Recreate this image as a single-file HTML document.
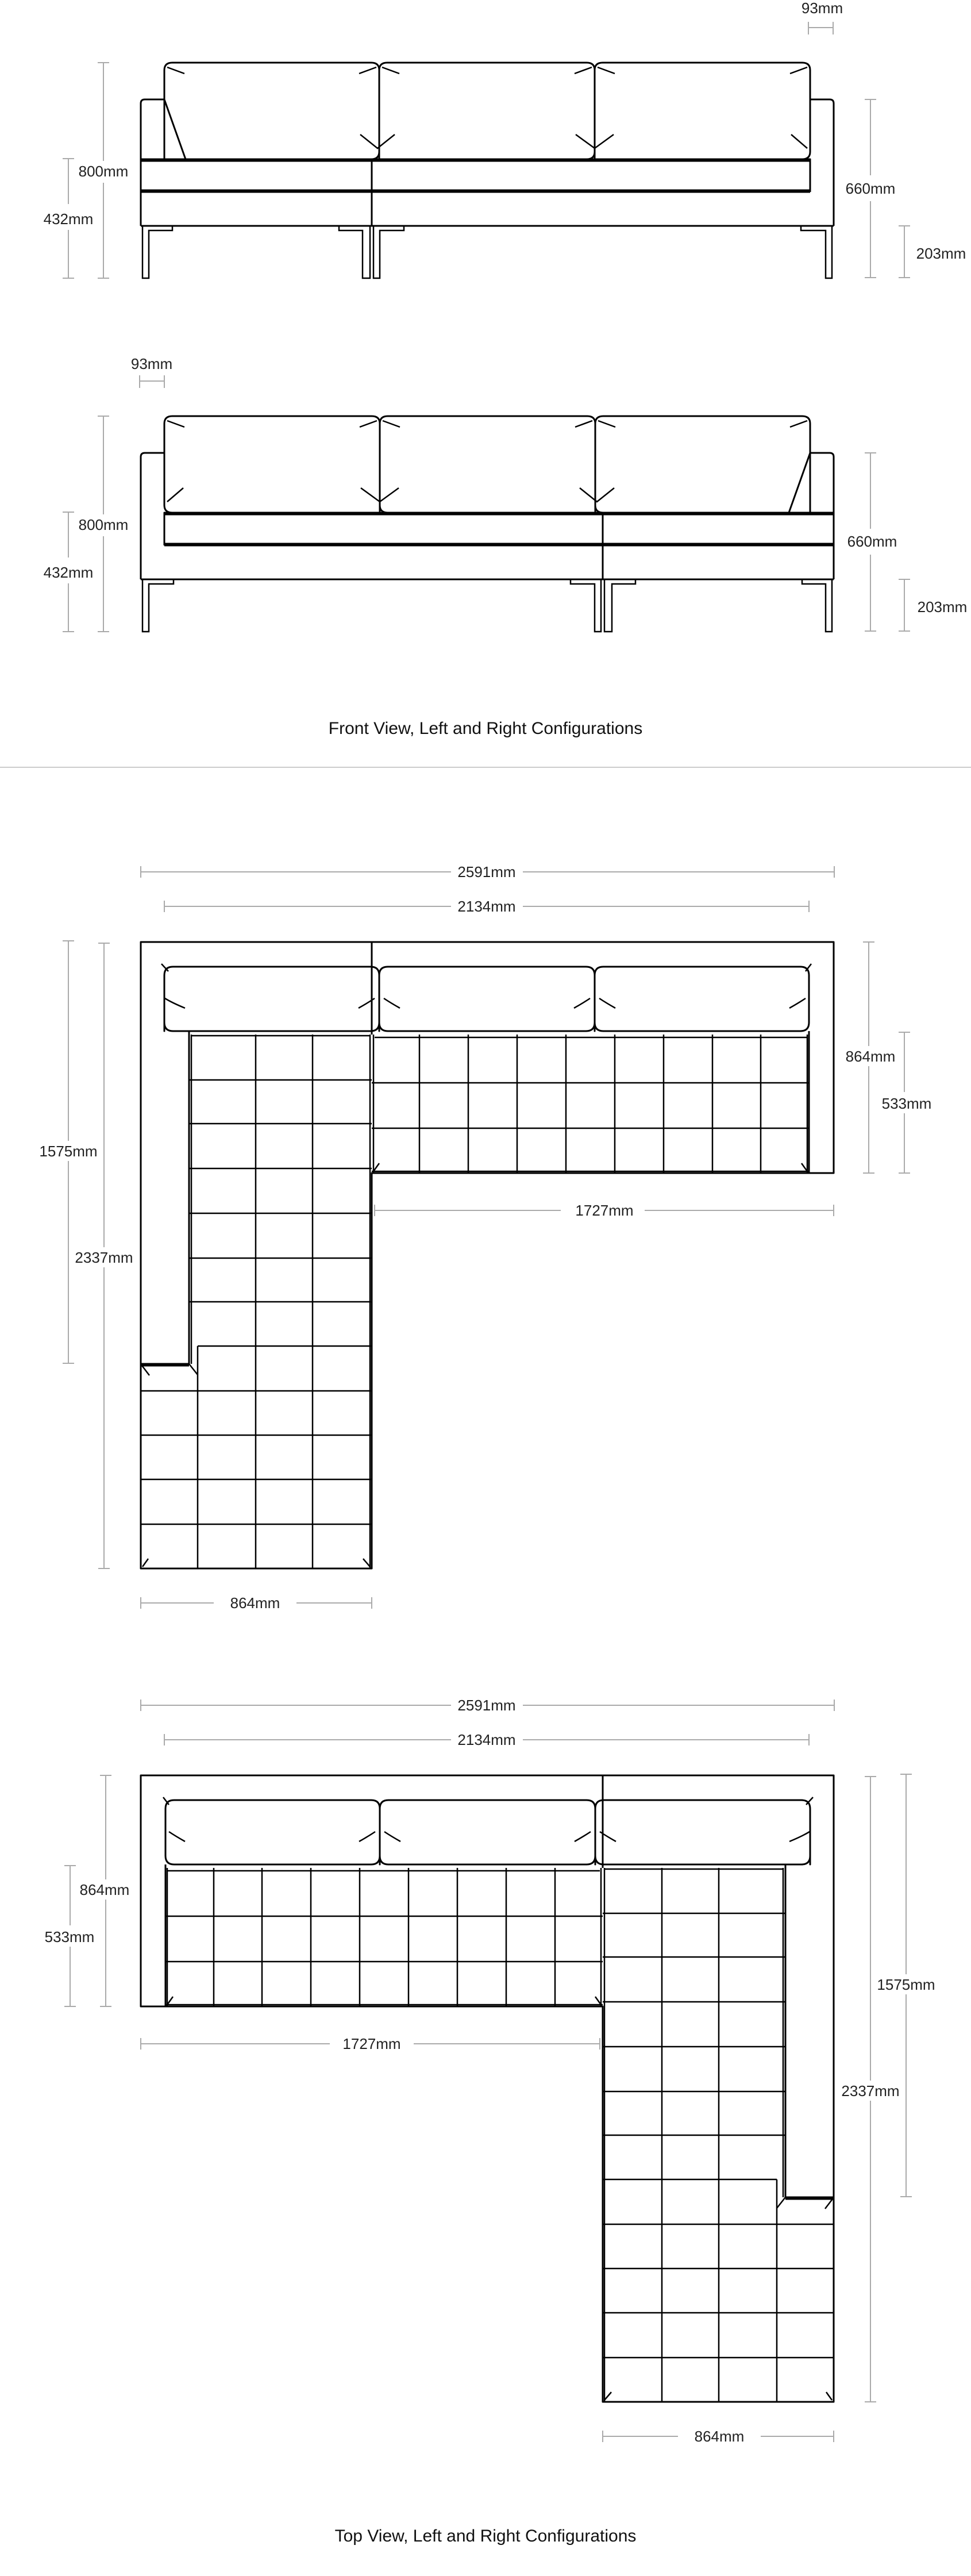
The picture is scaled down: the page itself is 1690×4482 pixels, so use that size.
<!DOCTYPE html>
<html><head><meta charset="utf-8"><style>
html,body{margin:0;padding:0;background:#fff}
svg{display:block}
text{font-family:"Liberation Sans",sans-serif;font-size:26px;fill:#222}
.t{font-size:30px;font-weight:normal;fill:#111}
.d{stroke:#aaa;stroke-width:2;fill:none}
.s{stroke:#000;stroke-width:3;fill:none;stroke-linejoin:round}
.g{stroke:#000;stroke-width:2.5;fill:none}
</style></head><body>
<svg width="1690" height="4482" viewBox="0 0 1690 4482" xmlns="http://www.w3.org/2000/svg">
<defs>
<g id="front">
  <path class="s" d="M286,277 V122 Q286,109 300,109 H646 Q660,109 660,122 V264 Q660,277 646,277 Z"/>
  <path class="s" d="M660,277 V122 Q660,109 674,109 H1021 Q1035,109 1035,122 V264 Q1035,277 1021,277 Z"/>
  <path class="s" d="M1035,277 V122 Q1035,109 1049,109 H1396 Q1410,109 1410,122 V264 Q1410,277 1396,277 Z"/>
  <g class="g">
    <path d="M291,117 L321,128"/><path d="M655,117 L625,128"/><path d="M665,117 L695,128"/><path d="M1030,117 L1000,128"/><path d="M1040,117 L1070,128"/><path d="M1405,117 L1375,128"/>
    <path d="M627,234 L657,258 L687,234"/><path d="M1002,234 L1035,258 L1068,234"/><path d="M1377,234 L1405,258"/>
  </g>
  <path class="s" d="M245,393 V180 Q245,173 252,173 H286"/>
  <path class="s" d="M286,173 L323,277"/>
  <path class="s" d="M1410,173 H1444 Q1451,173 1451,180 V393"/>
  <path class="s" d="M245,277 H1410 V334"/>
  <path class="s" d="M245,280 H1410"/>
  <path class="s" d="M245,331 H1410"/>
  <path class="s" d="M245,334 H1410"/>
  <path class="s" d="M647,277 V393"/>
  <path class="s" d="M245,393 H1451"/>
  <path class="g" d="M248,393 V484 H259 V401 H300 V393"/>
  <path class="g" d="M590,393 V401 H631 V484 H644 V393"/>
  <path class="g" d="M650,393 V484 H661 V401 H703 V393"/>
  <path class="g" d="M1394,393 V401 H1437 V484 H1448 V393"/>
</g>
<g id="top">
  <path class="s" d="M245,1639 H1451 V2041 H647 V2729 H245 Z"/>
  <path class="s" d="M647,1639 V1800"/>
  <path class="s" d="M1408,1794 V2041"/>
  <path class="s" d="M329,1794 V2373 H245"/>
  <path class="s" d="M329,2376 H245"/>
  <path class="s" d="M286,1794 V1697 Q286,1682 301,1682 H645 Q660,1682 660,1697 V1779 Q660,1794 645,1794 H301 Q286,1794 286,1779 Z"/>
  <path class="s" d="M660,1794 V1697 Q660,1682 675,1682 H1020 Q1035,1682 1035,1697 V1779 Q1035,1794 1020,1794 H675 Q660,1794 660,1779 Z"/>
  <path class="s" d="M1035,1794 V1697 Q1035,1682 1050,1682 H1393 Q1408,1682 1408,1697 V1779 Q1408,1794 1393,1794 H1050 Q1035,1794 1035,1779 Z"/>
  <g class="g">
    <path d="M281,1677 L293,1690"/><path d="M287,1737 Q300,1745 322,1754"/><path d="M652,1737 Q640,1745 624,1754"/><path d="M668,1737 Q680,1745 696,1754"/>
    <path d="M1027,1737 Q1015,1745 999,1754"/><path d="M1043,1737 Q1055,1745 1071,1754"/><path d="M1402,1737 Q1390,1745 1374,1754"/><path d="M1412,1677 L1402,1690"/>
  </g>
  <g class="g">
    <path d="M333,1802 H644 M329,1879 H647 M329,1955 H647 M329,2033 H647 M329,2111 H647 M329,2189 H647 M329,2265 H647 M344,2342 H647 M245,2420 H647 M245,2497 H647 M245,2574 H647 M245,2652 H647"/>
    <path d="M333,1800 V2373 M445,1800 V2729 M544,1800 V2729 M644,1800 V2729 M344,2342 V2729 M329,2373 L344,2392"/>
    <path d="M652,1805 H1405 M647,1884 H1408 M647,1963 H1408 M647,2038 H1408"/>
    <path d="M650,1800 V2041 M730,1800 V2041 M815,1800 V2041 M900,1800 V2041 M985,1800 V2041 M1070,1800 V2041 M1155,1800 V2041 M1240,1800 V2041 M1324,1800 V2041 M1405,1800 V2041"/>
    <path d="M248,2726 L258,2712 M644,2726 L632,2712 M650,2038 L660,2024 M1405,2038 L1395,2024 M247,2376 L260,2393"/>
  </g>
</g>
</defs>

<use href="#front"/>
<use href="#front" transform="translate(1696,615) scale(-1,1)"/>

<g class="d">
  <path d="M1407,48 H1450 M1407,38 V60 M1450,38 V60"/>
  <path d="M180,109 V280 M180,318 V484 M170,109 H190 M170,484 H190"/>
  <path d="M119,276 V355 M119,400 V484 M109,276 H129 M109,484 H129"/>
  <path d="M1515,173 V305 M1515,350 V483 M1505,173 H1525 M1505,483 H1525"/>
  <path d="M1574,393 V483 M1564,393 H1584 M1564,483 H1584"/>
</g>
<text x="1431" y="23" text-anchor="middle">93mm</text>
<text x="180" y="307" text-anchor="middle">800mm</text>
<text x="119" y="390" text-anchor="middle">432mm</text>
<text x="1515" y="337" text-anchor="middle">660mm</text>
<text x="1638" y="450" text-anchor="middle">203mm</text>

<g class="d">
  <path d="M243,663 H286 M243,653 V675 M286,653 V675"/>
  <path d="M180,724 V895 M180,933 V1099 M170,724 H190 M170,1099 H190"/>
  <path d="M119,891 V970 M119,1015 V1099 M109,891 H129 M109,1099 H129"/>
  <path d="M1515,788 V920 M1515,965 V1098 M1505,788 H1525 M1505,1098 H1525"/>
  <path d="M1574,1008 V1098 M1564,1008 H1584 M1564,1098 H1584"/>
</g>
<text x="264" y="642" text-anchor="middle">93mm</text>
<text x="180" y="922" text-anchor="middle">800mm</text>
<text x="119" y="1005" text-anchor="middle">432mm</text>
<text x="1518" y="951" text-anchor="middle">660mm</text>
<text x="1640" y="1065" text-anchor="middle">203mm</text>

<text class="t" x="845" y="1277" text-anchor="middle">Front View, Left and Right Configurations</text>
<path d="M0,1335 H1690" stroke="#ccc" stroke-width="2"/>

<use href="#top"/>
<use href="#top" transform="translate(1696,1450) scale(-1,1)"/>

<g class="d">
  <path d="M245,1517 H785 M910,1517 H1452 M245,1507 V1527 M1452,1507 V1527"/>
  <path d="M286,1577 H785 M910,1577 H1408 M286,1567 V1587 M1408,1567 V1587"/>
  <path d="M119,1637 V1985 M119,2020 V2372 M109,1637 H129 M109,2372 H129"/>
  <path d="M181,1641 V2170 M181,2205 V2729 M171,1641 H191 M171,2729 H191"/>
  <path d="M1512,1639 V1820 M1512,1855 V2041 M1502,1639 H1522 M1502,2041 H1522"/>
  <path d="M1574,1796 V1900 M1574,1937 V2041 M1564,1796 H1584 M1564,2041 H1584"/>
  <path d="M652,2106 H976 M1122,2106 H1451 M652,2096 V2116 M1451,2096 V2116"/>
  <path d="M245,2789 H372 M516,2789 H647 M245,2779 V2799 M647,2779 V2799"/>
</g>
<text x="847" y="1526" text-anchor="middle">2591mm</text>
<text x="847" y="1586" text-anchor="middle">2134mm</text>
<text x="119" y="2012" text-anchor="middle">1575mm</text>
<text x="181" y="2197" text-anchor="middle">2337mm</text>
<text x="1515" y="1847" text-anchor="middle">864mm</text>
<text x="1578" y="1929" text-anchor="middle">533mm</text>
<text x="1052" y="2115" text-anchor="middle">1727mm</text>
<text x="444" y="2798" text-anchor="middle">864mm</text>

<g class="d">
  <path d="M245,2967 H785 M910,2967 H1452 M245,2957 V2977 M1452,2957 V2977"/>
  <path d="M286,3027 H785 M910,3027 H1408 M286,3017 V3037 M1408,3017 V3037"/>
  <path d="M1577,3087 V3435 M1577,3470 V3822 M1567,3087 H1587 M1567,3822 H1587"/>
  <path d="M1515,3091 V3620 M1515,3655 V4179 M1505,3091 H1525 M1505,4179 H1525"/>
  <path d="M184,3089 V3270 M184,3305 V3491 M174,3089 H194 M174,3491 H194"/>
  <path d="M122,3246 V3350 M122,3387 V3491 M112,3246 H132 M112,3491 H132"/>
  <path d="M245,3556 H574 M720,3556 H1044 M245,3546 V3566 M1044,3546 V3566"/>
  <path d="M1049,4239 H1180 M1324,4239 H1451 M1049,4229 V4249 M1451,4229 V4249"/>
</g>
<text x="847" y="2976" text-anchor="middle">2591mm</text>
<text x="847" y="3036" text-anchor="middle">2134mm</text>
<text x="1577" y="3462" text-anchor="middle">1575mm</text>
<text x="1515" y="3647" text-anchor="middle">2337mm</text>
<text x="182" y="3297" text-anchor="middle">864mm</text>
<text x="121" y="3379" text-anchor="middle">533mm</text>
<text x="647" y="3565" text-anchor="middle">1727mm</text>
<text x="1252" y="4248" text-anchor="middle">864mm</text>

<text class="t" x="845" y="4422" text-anchor="middle">Top View, Left and Right Configurations</text>
</svg>
</body></html>
